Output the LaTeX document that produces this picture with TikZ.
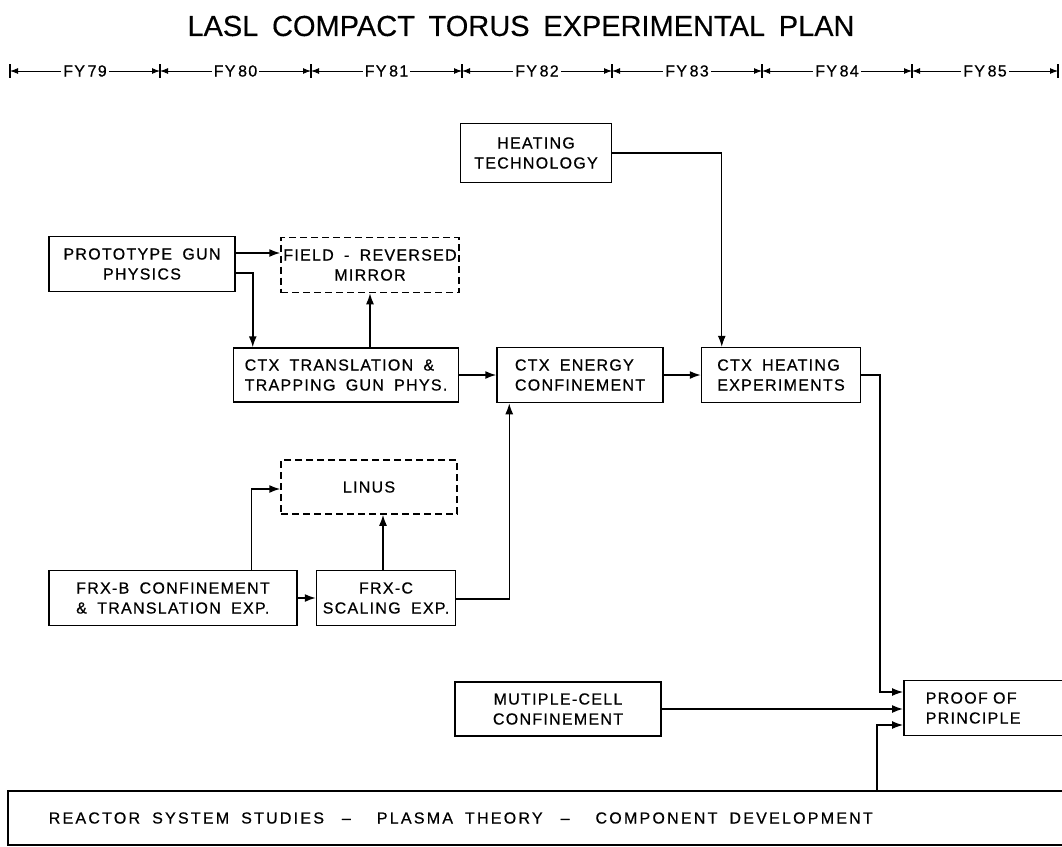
\documentclass[tikz,border=0pt]{standalone}
\usepackage{fontspec}
\setmainfont{Liberation Sans}[LetterSpace=8, WordSpace=1.8, FakeBold=0.6]
\newfontfamily\titlefont{Liberation Sans}[WordSpace=1.7, FakeBold=0.3]
\newfontfamily\barfont{Liberation Sans}[LetterSpace=14, WordSpace=1.8, FakeBold=0.6]
\usetikzlibrary{arrows.meta, positioning}

\begin{document}
\begin{tikzpicture}[x=1pt, y=-1pt, font=\fontsize{16}{20}\selectfont]
    \tikzstyle{plan} = [rectangle, draw=black, line width=1.5pt, inner sep=0pt, align=center]
    \tikzstyle{study} = [plan, dash pattern=on 7pt off 4pt]
    \tikzstyle{arrow} = [line width=1.5pt, -{Latex[length=11pt, width=8pt]}]
    \tikzstyle{thinarrow} = [line width=1.1pt, -{Latex[length=11pt, width=8pt]}]
    \tikzstyle{span} = [line width=1pt, {Latex[length=8pt, width=6pt]}-{Latex[length=8pt, width=6pt]}]

    \clip (0,0) rectangle (1062,846);

    % title and fiscal years
    \node (title) at (521,26) {\titlefont\fontsize{29}{31}\selectfont LASL COMPACT TORUS EXPERIMENTAL PLAN};
    \foreach \x [count=\i from 0] in {10,160,311,462,612,762,912,1058}
        \coordinate (t\i) at (\x,71);
    \foreach \i/\j/\fy in {0/1/79, 1/2/80, 2/3/81, 3/4/82, 4/5/83, 5/6/84, 6/7/85} {
        \draw [span] (t\i) -- (t\j) node[midway, fill=white, inner xsep=2pt] (fy\fy) {FY\,\fy};
    }
    \foreach \i in {0,...,7}
        \draw [line width=1.2pt] ([yshift=7pt]t\i) -- ([yshift=-7pt]t\i);

    % boxes
    \node (heat) [plan, minimum width=151pt, minimum height=59pt] at (536,153) {HEATING\\TECHNOLOGY};
    \node (proto) [plan, minimum width=186pt, minimum height=55pt] at (142,264) {PROTOTYPE GUN\\PHYSICS};
    \node (mirror) [study, minimum width=178pt, minimum height=55pt] at (370,265) {FIELD - REVERSED\\MIRROR};
    \node (ctxtrans) [plan, align=left, minimum width=225pt, minimum height=54pt] at (346,375) {CTX TRANSLATION \&\\TRAPPING GUN PHYS.};
    \node (ctxenergy) [plan, align=left, minimum width=166pt, minimum height=55pt] at (580,375) {CTX ENERGY\\CONFINEMENT};
    \node (ctxheat) [plan, align=left, minimum width=159pt, minimum height=55pt] at (781,375) {CTX HEATING\\EXPERIMENTS};
    \node (linus) [study, minimum width=176pt, minimum height=54pt] at (369,487) {LINUS};
    \node (frxb) [plan, align=left, minimum width=248pt, minimum height=55pt] at (173,598) {FRX-B CONFINEMENT\\\& TRANSLATION EXP.};
    \node (frxc) [plan, minimum width=139pt, minimum height=55pt] at (386,598) {FRX-C\\SCALING EXP.};
    \node (multi) [plan, minimum width=206pt, minimum height=54pt] at (558,709) {MUTIPLE-CELL\\CONFINEMENT};
    \node (proof) [plan, anchor=west, align=left, text width=160pt, inner xsep=22pt, minimum height=55pt] at (903,708) {PROOF OF\\PRINCIPLE};
    \node (support) [plan, minimum width=1090pt, minimum height=54pt] at (553,818) {};
    \node [right=38pt of support.west] (supporttext) {\barfont REACTOR SYSTEM STUDIES\hspace{18pt}\textendash\hspace{26pt}PLASMA THEORY\hspace{18pt}\textendash\hspace{26pt}COMPONENT DEVELOPMENT};

    % connectors
    \draw [arrow] ([yshift=11pt]proto.east) -- ([yshift=11pt]proto.east -| mirror.west);
    \draw [arrow] ([yshift=-9pt]proto.east) -| ([xshift=20pt]ctxtrans.north west);
    \draw [arrow] (ctxtrans.north -| mirror.south) -- (mirror.south);
    \draw [arrow] (ctxtrans.east) -- (ctxenergy.west);
    \draw [arrow] (ctxenergy.east) -- (ctxheat.west);
    \draw [thinarrow] (heat.east) -| ([xshift=21pt]ctxheat.north west);
    \draw [arrow] ([xshift=203pt]frxb.north west) |- ([yshift=-2pt]linus.west);
    \draw [arrow] (frxb.east) -- (frxc.west);
    \draw [arrow] (frxc.north -| 383,0) -- (linus.south -| 383,0);
    \draw [arrow] ([yshift=-1pt]frxc.east) -| ([xshift=13pt]ctxenergy.south west);
    \draw [thinarrow] (ctxheat.east) -| (880,692) -- (880,692 -| proof.west);
    \draw [arrow] (multi.east) -- (multi.east -| proof.west);
    \draw [thinarrow] (support.north -| 877,0) |- (877,725 -| proof.west);
\end{tikzpicture}
\end{document}
